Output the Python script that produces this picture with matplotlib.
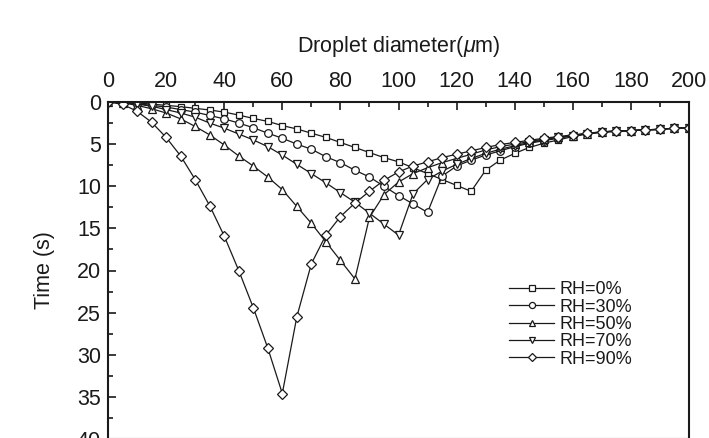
import matplotlib
matplotlib.use("Agg")
import matplotlib.pyplot as plt
from matplotlib.ticker import MultipleLocator

plt.rcParams['font.family'] = ['Liberation Sans', 'DejaVu Sans']
plt.rcParams['mathtext.fontset'] = 'custom'
plt.rcParams['mathtext.rm'] = 'Liberation Sans'
plt.rcParams['mathtext.it'] = 'Liberation Sans:italic'

# droplet diameter (um), one point every 5 um
diameter = [0, 5, 10, 15, 20, 25, 30, 35, 40, 45, 50, 55, 60, 65, 70, 75, 80,
            85, 90, 95, 100, 105, 110, 115, 120, 125, 130, 135, 140, 145, 150,
            155, 160, 165, 170, 175, 180, 185, 190, 195, 200]

# time (s)
rh0 = [0, 0.03, 0.1, 0.25, 0.4, 0.55, 0.75, 0.95, 1.2, 1.55, 1.95, 2.3, 2.8,
       3.2, 3.7, 4.2, 4.8, 5.4, 6.0, 6.6, 7.1, 7.8, 8.5, 9.2, 9.9, 10.6, 8.1,
       6.9, 6.1, 5.4, 4.9, 4.5, 4.1, 3.8, 3.6, 3.5, 3.4, 3.3, 3.25, 3.1, 3.05]
rh30 = [0, 0.05, 0.2, 0.4, 0.6, 0.9, 1.2, 1.6, 2.0, 2.5, 3.05, 3.7, 4.3, 5.0,
        5.6, 6.5, 7.2, 8.1, 8.9, 10.0, 11.1, 12.1, 13.1, 8.8, 7.6, 6.9, 6.3,
        5.8, 5.3, 4.9, 4.6, 4.3, 4.0, 3.75, 3.55, 3.45, 3.4, 3.3, 3.25, 3.1, 3.05]
rh50 = [0, 0.1, 0.4, 0.8, 1.3, 2.0, 2.9, 3.9, 5.1, 6.4, 7.6, 8.9, 10.4, 12.4,
        14.4, 16.6, 18.8, 21.0, 13.7, 11.0, 9.5, 8.5, 7.8, 7.2, 6.7, 6.2, 5.7,
        5.3, 5.0, 4.7, 4.4, 4.2, 4.0, 3.75, 3.55, 3.45, 3.4, 3.3, 3.25, 3.1, 3.05]
rh70 = [0, 0.05, 0.25, 0.5, 0.9, 1.3, 1.8, 2.5, 3.1, 3.8, 4.5, 5.3, 6.3, 7.4,
        8.5, 9.6, 10.75, 11.9, 13.2, 14.5, 15.8, 10.9, 9.2, 8.2, 7.4, 6.7, 6.1,
        5.6, 5.2, 4.8, 4.5, 4.2, 4.0, 3.75, 3.55, 3.45, 3.4, 3.3, 3.25, 3.1, 3.05]
rh90 = [0, 0.27, 1.1, 2.4, 4.2, 6.4, 9.2, 12.3, 15.9, 20.0, 24.4, 29.2, 34.6,
        25.5, 19.2, 15.8, 13.6, 12.0, 10.6, 9.3, 8.3, 7.6, 7.1, 6.6, 6.2, 5.8,
        5.4, 5.05, 4.8, 4.55, 4.3, 4.1, 3.9, 3.7, 3.55, 3.45, 3.4, 3.3, 3.25,
        3.1, 3.05]

series = [rh0, rh30, rh50, rh70, rh90]
labels = ['RH=0%', 'RH=30%', 'RH=50%', 'RH=70%', 'RH=90%']
markers = ['s', 'o', '^', 'v', 'D']
msizes = [5, 5.5, 5.5, 5.5, 5]

fig = plt.figure(figsize=(7.09, 4.38), dpi=100)
ax = fig.add_axes([108 / 709, -1 / 438, 581 / 709, 337 / 438])

col = '#1a1a1a'
for y, lab, m, ms in zip(series, labels, markers, msizes):
    ax.plot(diameter, y, color=col, lw=0.9, marker=m, ms=ms, mfc='white',
            mec=col, mew=0.9, label=lab)

ax.set_xlim(0, 200)
ax.set_ylim(40, 0)
ax.xaxis.set_major_locator(MultipleLocator(20))
ax.xaxis.set_minor_locator(MultipleLocator(10))
ax.yaxis.set_major_locator(MultipleLocator(5))
ax.yaxis.set_minor_locator(MultipleLocator(2.5))
ax.xaxis.tick_top()
ax.xaxis.set_label_position('top')
ax.tick_params(axis='x', which='both', direction='in', top=True, bottom=False,
               labelsize=15.5, pad=7, colors=col)
ax.tick_params(axis='y', which='both', direction='in', left=True, right=False,
               labelsize=15.5, pad=5, colors=col)
ax.tick_params(which='major', length=6, width=1.2)
ax.tick_params(which='minor', length=3.5, width=1.2)
for s in ax.spines.values():
    s.set_linewidth(1.5)
    s.set_color(col)

ax.set_xlabel(r'Droplet diameter($\mu$m)', fontsize=15.5, labelpad=14, color=col)
ax.set_ylabel('Time (s)', fontsize=15.5, labelpad=16, color=col)

leg = ax.legend(loc='upper left', bbox_to_anchor=(0.675, 0.495), frameon=False,
                fontsize=13, handlelength=2.5, handletextpad=0.3,
                labelspacing=0.02, borderpad=0, markerscale=0.8)
for t in leg.get_texts():
    t.set_color(col)

fig.savefig('out.png', dpi=100)
